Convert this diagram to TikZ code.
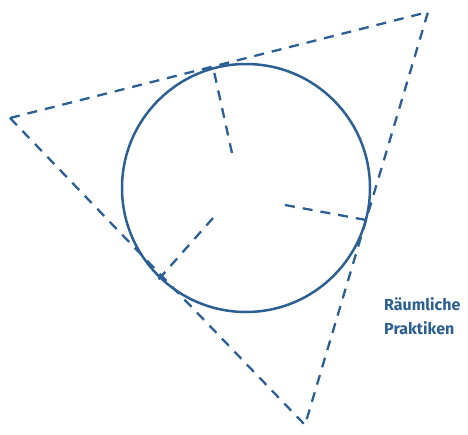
\documentclass[tikz,border=0pt]{standalone}
\usepackage{fontspec}
\setmainfont{Fira Sans}
\definecolor{ink}{HTML}{2C5F93}
\begin{document}
\begin{tikzpicture}[x=1pt,y=-1pt,
  dashline/.style={draw=ink,line width=2.3pt,dash pattern=on 10pt off 8pt},
  ring/.style={draw=ink,line width=2.5pt,circle,inner sep=0pt,minimum size=248pt},
  label/.style={text=ink,font=\bfseries\fontsize{16}{24}\selectfont,align=left,inner sep=0pt,anchor=north west}]
\useasboundingbox (0,0) rectangle (468,434);
\coordinate (A) at (10,118);
\coordinate (B) at (428,12);
\coordinate (C) at (305,425);
\draw[dashline] (A) -- (B) -- (C) -- cycle;
\node[ring] (k) at (246,188) {};
\coordinate (r1a) at (232,153);
\coordinate (r1b) at (213,67);
\coordinate (r2a) at (285,205);
\coordinate (r2b) at (366,220);
\coordinate (r3a) at (213,218);
\coordinate (r3b) at (158,280);
\draw[dashline] (r1a) -- (r1b);
\draw[dashline] (r2a) -- (r2b);
\draw[dashline] (r3a) -- (r3b);
\node[label] (t) at (384,297) {Räumliche\\Praktiken};
\end{tikzpicture}
\end{document}
